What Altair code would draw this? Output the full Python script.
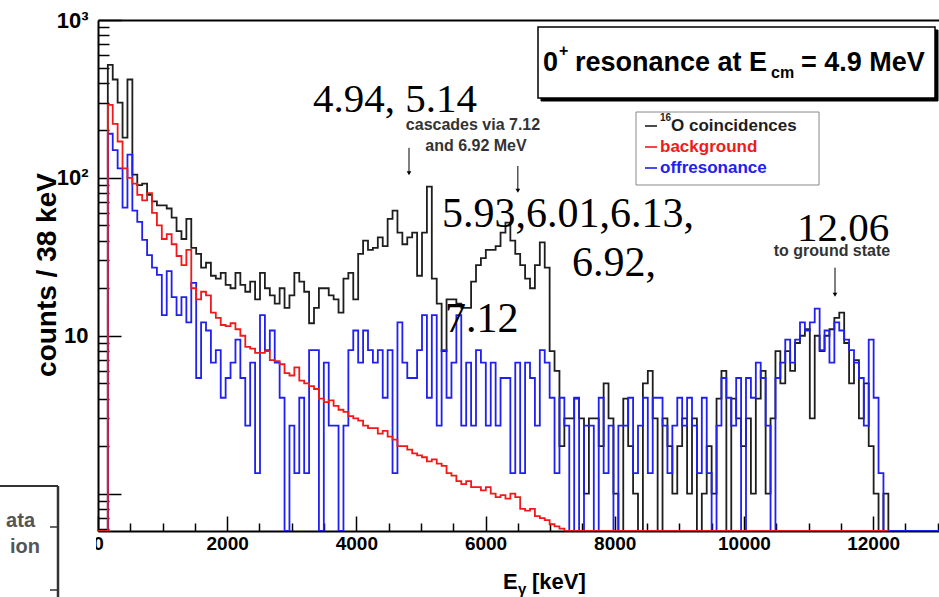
import altair as alt
import pandas as pd

# Gamma spectra, counts per bin; bins start at FIRST_KEV and are BIN_KEV wide
FIRST_KEV = 152
BIN_KEV = 76

coincidences = [
    520, 420, 300, 180, 420, 105, 90, 92, 78, 71,
    67, 67, 64, 56, 46, 41, 55, 36, 33, 27,
    29, 24, 23, 25, 21, 20, 25, 21, 19, 22,
    17, 25, 20, 18, 16, 20, 15, 18, 25, 22,
    19, 12, 15, 20, 20, 18, 17, 14, 23, 25,
    17, 33, 40, 35, 36, 42, 37, 55, 62, 45,
    38, 42, 45, 24, 45, 88, 23, 16, 8, 17,
    17, 16, 15, 15, 22, 28, 31, 35, 35, 37,
    45, 52, 40, 33, 28, 23, 20, 28, 39, 27,
    8, 6, 2, 3, 3, 4, 3, 1, 3, 3,
    2, 5, 3, 1, 0, 4, 2, 1, 0, 5,
    6, 3, 0, 3, 2, 1, 2, 3, 1, 3,
    0, 1, 2, 1, 4, 6, 0, 4, 3, 2,
    3, 1, 4, 6, 1, 3, 8, 5, 8, 6,
    9, 10, 11, 3, 10, 8, 10, 11, 13, 14,
    9, 5, 7, 3, 5, 2, 1, 0, 1, 0,
    0, 0, 0, 0, 0, 0, 0, 0, 0, 0,
]

background = [
    290, 220, 170, 115, 100, 92, 78, 72, 80, 60,
    50, 41, 44, 38, 32, 28, 35, 20, 17, 19,
    18, 14, 13, 11.7, 11.5, 12, 11, 10, 8.5, 8.3,
    7.8, 7.8, 8, 7.0, 6.9, 6.6, 5.8, 5.6, 6.3, 5.2,
    5.0, 4.8, 4.6, 4.0, 3.8, 3.9, 3.6, 3.4, 3.3, 3.1,
    3.0, 2.9, 2.7, 2.6, 2.6, 2.4, 2.5, 2.3, 2.2, 2.0,
    2.0, 1.9, 1.8, 1.75, 1.7, 1.6, 1.65, 1.55, 1.5, 1.35,
    1.3, 1.2, 1.15, 1.2, 1.1, 1.1, 1.05, 1.1, 1.0, 0.95,
    0.98, 0.93, 1.0, 0.95, 0.8, 0.78, 0.8, 0.72, 0.7, 0.68,
    0.64, 0.62, 0.6,
] + [0] * 66

# off-resonance run: raw counts, normalised with OFFRES_NORM
offresonance_counts = [
    141, 111, 85, 48, 104, 46, 39, 30, 24, 20,
    18, 10, 19, 13, 10, 13, 9, 16, 4, 9,
    8, 5, 6, 3, 4, 5, 7, 4, 2, 5,
    1, 10, 6, 8, 5, 3, 0, 2, 1, 3,
    1, 6, 6, 0, 5, 2, 2, 0, 2, 6,
    8, 5, 8, 6, 5, 6, 3, 6, 1, 9,
    5, 4, 4, 6, 10, 3, 10, 2, 6, 3,
    5, 10, 2, 5, 2, 6, 5, 2, 5, 2,
    4, 4, 1, 5, 1, 5, 4, 2, 6, 5,
    3, 1, 3, 2, 0, 3, 0, 2, 2, 0,
    3, 1, 2, 0, 2, 2, 3, 1, 2, 3,
    1, 3, 3, 2, 1, 2, 3, 2, 3, 2,
    1, 3, 1, 0, 2, 4, 3, 2, 4, 0,
    4, 3, 5, 4, 2, 0, 4, 5, 7, 5,
    7, 9, 8, 9, 11, 6, 8, 5, 9, 8,
    7, 6, 5, 4, 2, 7, 3, 1, 0, 0,
    0, 0, 0, 0, 0, 0, 0, 0, 0, 0,
]
OFFRES_NORM = 1.35

# arrows marking the transitions: energy, arrow top and tip (counts)
arrow_kev = [4815, 6500, 11410]
arrow_top = [155, 119, 27]
arrow_tip = [107, 83, 18.2]

X_MAX = 13020
Y_MIN = 0.58
Y_MAX = 1000
X_MAJOR = list(range(0, 13000, 2000))
X_MINOR = [v for v in range(0, 13001, 500) if v % 2000]
Y_MAJOR = [1, 10, 100, 1000]
Y_MINOR = [round(m * 10 ** e, 3) for e in (-1, 0, 1, 2) for m in range(2, 10)
           if Y_MIN <= m * 10 ** e < Y_MAX]

SANS = "Liberation Sans, Arial, Helvetica, sans-serif"
SERIF = "Liberation Serif, Times New Roman, serif"
BLACK, RED, BLUE = "#1e1e1e", "#f01a1a", "#2020f0"

# plot-area placement inside the 939x597 page
X0, Y0, W, H = 98, 20, 841, 511


def step_frame(values, scale=1.0):
    rows = [{"E": 0, "counts": 0.0}]
    for i, v in enumerate(values):
        rows.append({"E": FIRST_KEV + BIN_KEV * i, "counts": v * scale})
    rows.append({"E": FIRST_KEV + BIN_KEV * len(values), "counts": values[-1] * scale})
    df = pd.DataFrame(rows)
    df["y"] = df["counts"].clip(lower=Y_MIN)
    return df


xs = alt.Scale(domain=[0, X_MAX], nice=False, zero=False)
ys = alt.Scale(type="log", domain=[Y_MIN, Y_MAX], nice=False, clamp=True)


def tick_axis(orient, values, size):
    return alt.Axis(orient=orient, values=values, offset=-size, tickSize=size,
                    tickWidth=1.5, tickColor="black", labels=False, domain=False,
                    grid=False)


axis_x_labels = alt.Axis(orient="bottom", values=X_MAJOR, ticks=False, domain=True,
                         domainColor="black", domainWidth=2, labelFont=SANS,
                         labelFontWeight="bold", labelFontSize=19, labelColor="black",
                         labelPadding=3, labelFlush=False, labelOverlap=False,
                         grid=False, format="d")
axis_y_labels = alt.Axis(orient="left", values=[10, 100, 1000], ticks=False, domain=True,
                         domainColor="black", domainWidth=2, labelFont=SANS,
                         labelFontWeight="bold", labelFontSize=22, labelColor="black",
                         labelPadding=10, labelFlush=False, labelOverlap=False, grid=False,
                         labelExpr="datum.value == 1000 ? '10³' : datum.value == 100 ? '10²' : '10'")
axis_x_top = alt.Axis(orient="top", ticks=False, labels=False, domain=True,
                      domainColor="black", domainWidth=2, grid=False)


def hist(values, color, x_axis, y_axis, scale=1.0):
    return alt.Chart(step_frame(values, scale)).mark_line(
        interpolate="step-after", color=color, strokeWidth=1.8, clip=True
    ).encode(
        x=alt.X("E:Q", scale=xs, axis=x_axis, title=None),
        y=alt.Y("y:Q", scale=ys, axis=y_axis, title=None),
    )


black_line = hist(coincidences, BLACK, tick_axis("bottom", X_MINOR, 8), tick_axis("left", Y_MINOR, 11))
blue_line = hist(offresonance_counts, BLUE, tick_axis("bottom", X_MAJOR, 15),
                 tick_axis("left", Y_MAJOR, 23), scale=OFFRES_NORM)
red_line = hist(background, RED, axis_x_labels, axis_y_labels)

arrows_df = pd.DataFrame({"E": arrow_kev, "top": arrow_top, "tip": arrow_tip})
arrow_shafts = alt.Chart(arrows_df).mark_rule(color="black", strokeWidth=1).encode(
    x=alt.X("E:Q", scale=xs, axis=axis_x_top, title=None),
    y=alt.Y("top:Q", scale=ys, axis=None),
    y2="tip:Q",
)
arrow_heads = alt.Chart(arrows_df).mark_point(
    shape="triangle-down", filled=True, size=22, color="black", opacity=1
).encode(
    x=alt.X("E:Q", scale=xs, axis=None),
    y=alt.Y("tip:Q", scale=ys, axis=None),
)


def text(t, x, y, size, color="black", font=SANS, weight="bold", align="left",
         baseline="alphabetic", angle=0):
    return alt.Chart(pd.DataFrame({"t": [t]})).mark_text(
        align=align, baseline=baseline, font=font, fontSize=size, fontWeight=weight,
        color=color, angle=angle
    ).encode(x=alt.value(x - X0), y=alt.value(y - Y0), text="t:N")


def box(x1, y1, x2, y2, fill="white", stroke="black", width=1.5):
    return alt.Chart(pd.DataFrame({"k": [0]})).mark_rect(
        fill=fill, stroke=stroke, strokeWidth=width
    ).encode(x=alt.value(x1 - X0), x2=alt.value(x2 - X0),
             y=alt.value(y1 - Y0), y2=alt.value(y2 - Y0))


def seg(x1, y1, x2, y2, color="black", width=1.5):
    return alt.Chart(pd.DataFrame({"k": [0]})).mark_rule(color=color, strokeWidth=width).encode(
        x=alt.value(x1 - X0), x2=alt.value(x2 - X0),
        y=alt.value(y1 - Y0), y2=alt.value(y2 - Y0))


# axis titles
titles = [
    text("counts / 38 keV", 48, 275, 28, angle=270, align="center", baseline="middle"),
    text("E", 503, 589, 22),
    text("γ", 518, 594, 15),
    text("[keV]", 532, 589, 22),
]

# title pave with shadow
title_box = [
    box(541, 30, 938, 101, fill="black", stroke="black", width=1),
    box(538, 27, 935, 98, fill="white", stroke="black", width=1.5),
    text("0", 543, 71, 27),
    text("+", 559, 56, 16),
    text("resonance at E", 575, 71, 27),
    text("cm", 771, 78, 16),
    text("= 4.9 MeV", 801, 71, 27),
]

# legend pave
legend = [
    box(636, 112, 819, 185, fill="white", stroke="#888888", width=1),
    seg(645, 126, 657, 126, BLACK, 1.6),
    seg(645, 147, 657, 147, RED, 1.6),
    seg(645, 168, 657, 168, BLUE, 1.6),
    text("16", 660, 121, 10, color=BLACK),
    text("O coincidences", 671, 126, 17, color=BLACK, baseline="middle"),
    text("background", 660, 147, 17, color=RED, baseline="middle"),
    text("offresonance", 660, 168, 17, color=BLUE, baseline="middle"),
]

# level annotations
notes = [
    text("4.94, 5.14", 395, 112, 41, font=SERIF, weight="normal", align="center"),
    text("cascades via 7.12", 473, 125, 16, color="#333333", align="center", baseline="middle"),
    text("and 6.92 MeV", 476, 146, 16, color="#333333", align="center", baseline="middle"),
    text("5.93,6.01,6.13,", 442, 227, 42, font=SERIF, weight="normal"),
    text("6.92,", 572, 276, 42, font=SERIF, weight="normal"),
    text("7.12", 445, 332, 42, font=SERIF, weight="normal"),
    text("12.06", 843, 241, 41, font=SERIF, weight="normal", align="center"),
    text("to ground state", 832, 251, 16, color="#333333", align="center", baseline="middle"),
]

# neighbouring panel's legend edge and the panel margin overlapping the first label
side_panel = [
    box(60, 533, 96, 566, fill="white", stroke="white", width=0),
    seg(0, 486, 58, 486, "#333333", 2),
    seg(58, 486, 58, 597, "#333333", 2.5),
    seg(50, 527, 58, 527, "#333333", 1.5),
    seg(50, 590, 58, 590, "#333333", 1.5),
    text("ata", 35, 521, 20, color="#555555", align="right", baseline="middle"),
    text("ion", 40, 547, 20, color="#555555", align="right", baseline="middle"),
]

chart = alt.layer(
    black_line, blue_line, red_line, arrow_shafts, arrow_heads,
    *titles, *title_box, *legend, *notes, *side_panel,
).resolve_axis(x="independent", y="independent").properties(
    width=W, height=H,
    padding={"left": X0, "top": Y0, "right": 939 - X0 - W, "bottom": 597 - Y0 - H},
    autosize=alt.AutoSizeParams(type="none"),
    background="white",
).configure_view(stroke=None)

chart.save("out.html", embed_options={"renderer": "svg", "actions": False})
